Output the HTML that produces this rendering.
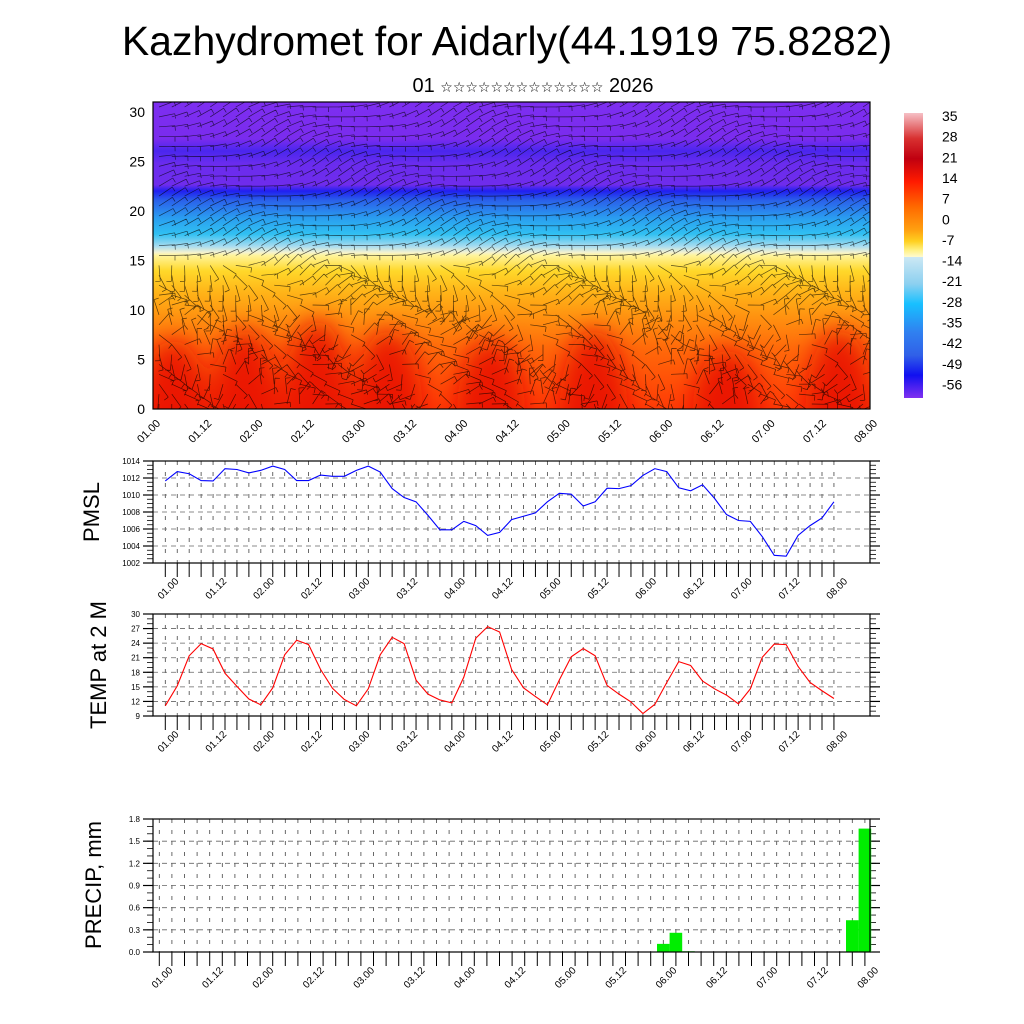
<!DOCTYPE html>
<html><head><meta charset="utf-8"><style>
html,body{margin:0;padding:0;background:#fff;}
svg{display:block;font-family:"Liberation Sans","DejaVu Sans",sans-serif;}
</style></head><body>
<svg id="chart" width="1024" height="1024" viewBox="0 0 1024 1024" xmlns="http://www.w3.org/2000/svg">
<defs>
<linearGradient id="fieldGrad" x1="0" y1="0" x2="0" y2="1">
<stop offset="0" stop-color="#7d2ef0"/>
<stop offset="0.12" stop-color="#7a2cee"/>
<stop offset="0.16" stop-color="#4a26ee"/>
<stop offset="0.2" stop-color="#6a2cee"/>
<stop offset="0.27" stop-color="#6f2cec"/>
<stop offset="0.29" stop-color="#2020f0"/>
<stop offset="0.32" stop-color="#2a60ea"/>
<stop offset="0.38" stop-color="#2a9ff0"/>
<stop offset="0.43" stop-color="#30c0f2"/>
<stop offset="0.47" stop-color="#a8dcf0"/>
<stop offset="0.49" stop-color="#f4f2d0"/>
<stop offset="0.5" stop-color="#fff49a"/>
<stop offset="0.55" stop-color="#ffd82a"/>
<stop offset="0.62" stop-color="#ffb418"/>
<stop offset="0.7" stop-color="#ff9210"/>
<stop offset="0.8" stop-color="#ff6a0a"/>
<stop offset="1" stop-color="#ff3a05"/>
</linearGradient>
<filter id="blur" x="-50%" y="-50%" width="200%" height="200%"><feGaussianBlur stdDeviation="12"/></filter>
<linearGradient id="cbGrad" x1="0" y1="0" x2="0" y2="1">
<stop offset="0" stop-color="#f6c0c6"/>
<stop offset="0.09" stop-color="#d83030"/>
<stop offset="0.16" stop-color="#c00010"/>
<stop offset="0.24" stop-color="#ff1a00"/>
<stop offset="0.33" stop-color="#ff6a00"/>
<stop offset="0.41" stop-color="#ffa010"/>
<stop offset="0.45" stop-color="#ffd020"/>
<stop offset="0.48" stop-color="#fff080"/>
<stop offset="0.505" stop-color="#fffbd0"/>
<stop offset="0.505" stop-color="#cce8f4"/>
<stop offset="0.6" stop-color="#8cd0f0"/>
<stop offset="0.67" stop-color="#18c0ff"/>
<stop offset="0.77" stop-color="#3080f0"/>
<stop offset="0.85" stop-color="#3060e8"/>
<stop offset="0.92" stop-color="#1010f0"/>
<stop offset="1" stop-color="#8030f0"/>
</linearGradient>
<clipPath id="fieldClip"><rect x="153" y="102" width="717" height="307"/></clipPath>
</defs>

<text x="507" y="55" font-size="41" text-anchor="middle">Kazhydromet for Aidarly(44.1919 75.8282)</text>
<text x="533" y="92" font-size="20" text-anchor="middle">01 <tspan font-size="14">☆☆☆☆☆☆☆☆☆☆☆☆☆</tspan> 2026</text>

<g id="field" clip-path="url(#fieldClip)">
<rect x="153" y="102" width="717" height="307" fill="url(#fieldGrad)"/>
</g>
<rect x="153" y="102" width="717" height="307" fill="none" stroke="#000" stroke-width="1.2"/>

<rect x="904" y="113" width="19" height="285" fill="url(#cbGrad)"/>
<g id="cblabels"></g>

<g id="panels"></g>
<text transform="translate(99,512) rotate(-90)" font-size="22" text-anchor="middle">PMSL</text>
<text transform="translate(106,665) rotate(-90)" font-size="22" text-anchor="middle">TEMP at 2 M</text>
<text transform="translate(101,885) rotate(-90)" font-size="22" text-anchor="middle">PRECIP, mm</text>
</svg>
<script>
const NS="http://www.w3.org/2000/svg";
const timeLabels=["01.00","01.12","02.00","02.12","03.00","03.12","04.00","04.12","05.00","05.12","06.00","06.12","07.00","07.12","08.00"];
const pmslValues=[1011.65,1012.75,1012.5,1011.7,1011.65,1013.1,1013.0,1012.6,1012.9,1013.4,1013.0,1011.7,1011.7,1012.35,1012.2,1012.2,1012.9,1013.4,1012.7,1010.75,1009.7,1009.2,1007.6,1005.9,1005.9,1006.9,1006.4,1005.25,1005.6,1007.1,1007.5,1007.9,1009.2,1010.2,1010.1,1008.7,1009.2,1010.8,1010.75,1011.1,1012.3,1013.1,1012.75,1010.85,1010.5,1011.2,1009.6,1007.7,1007.0,1006.9,1005.1,1002.9,1002.8,1005.25,1006.4,1007.3,1009.2];
const tempValues=[11.1,15.2,21.4,23.9,22.8,17.8,15.1,12.5,11.3,14.8,21.6,24.6,23.7,18.6,14.7,12.4,11.1,14.6,21.6,25.2,23.9,16.4,13.5,12.3,11.7,17.0,25.0,27.4,26.3,18.6,14.8,13.0,11.3,16.4,21.2,22.9,21.4,15.3,13.5,11.9,9.5,11.4,15.9,20.2,19.4,16.2,14.6,13.3,11.5,14.6,21.1,23.8,23.7,19.2,15.9,14.2,12.6];
const precipIndex=[40,41,42,55,56];
const precipValues=[0.11,0.26,0.01,0.43,1.67];
const pmslTicks=[1002,1004,1006,1008,1010,1012,1014];
const tempTicks=[9,12,15,18,21,24,27,30];
const precipTicks=[0,0.3,0.6,0.9,1.2,1.5,1.8];
const precipTickLabels=["0.0","0.3","0.6","0.9","1.2","1.5","1.8"];
const fieldYTicks=[0,5,10,15,20,25,30];
const colorbarLabels=["35","28","21","14","7","0","-7","-14","-21","-28","-35","-42","-49","-56"];
const hotSpots=[[0.2,4],[0.9,5],[1.6,6],[2.3,5],[3.3,4],[4.3,5],[5.6,3],[6.7,5]];

function mk(tag,attrs,parent){const e=document.createElementNS(NS,tag);for(const k in attrs)e.setAttribute(k,attrs[k]);parent.appendChild(e);return e;}
const svg=document.getElementById('chart');
const panels=document.getElementById('panels');

const field=document.getElementById('field');
const fx=d=>153+d*(717/7);
const fy=v=>409-v*(307/31);
const hotG=mk('g',{filter:'url(#blur)'},field);
hotSpots.forEach((h,i)=>{
  const el=mk('ellipse',{cx:fx(h[0]),cy:409,rx:34,ry:409-fy(h[1]+3),fill:'#e80800','fill-opacity':0.85},hotG);
  
  
});
const barbs=mk('g',{stroke:'#000','stroke-width':'0.7','stroke-opacity':'0.65',fill:'none'},field);


let dstr='';
for(let i=0;i<57;i++){for(let j=0;j<31;j++){
  const x=153+i*12.8+6,y=fy(j+0.5);
  const a=(j>14?0.3:1.2)*Math.sin(i*0.37+j*0.53)+(j<10?Math.cos(i*0.9+j)*1.2:0)+(j>14?-0.3:0.4);
  const L=16,dx=Math.cos(a)*L,dy=Math.sin(a)*L;
  dstr+=`M${x.toFixed(1)} ${y.toFixed(1)}l${dx.toFixed(1)} ${dy.toFixed(1)}`;
  dstr+=`m0 0l${(-Math.sin(a)*5).toFixed(1)} ${(Math.cos(a)*5).toFixed(1)}`;
}}
mk('path',{d:dstr},barbs);
fieldYTicks.forEach(v=>{
  const t=mk('text',{x:145,y:fy(v)+5,'font-size':14,'text-anchor':'end'},svg);t.textContent=v;
  
  
});
timeLabels.forEach((s,k)=>{
  const x=153+k*(717/14);
  const t=mk('text',{transform:`translate(${x+8},${424}) rotate(-45)`,'font-size':11,'text-anchor':'end'},svg);t.textContent=s;
  
  
});
const cbl=document.getElementById('cblabels');
colorbarLabels.forEach((s,k)=>{
  const t=mk('text',{x:942,y:121+k*20.65,'font-size':14},cbl);t.textContent=s;
  
  
});

function panel(opt){
  const g=mk('g',{},panels);
  
  
  const {L,R,T,B,min,max,x0,dx}=opt;
  const sy=v=>B-(v-min)/(max-min)*(B-T);
  const sx=i=>x0+i*dx;
  for(let i=0;i<57;i++){const x=sx(i);if(x>L&&x<R)mk('line',{x1:x,x2:x,y1:T,y2:B,stroke:'#444','stroke-width':0.8,'stroke-dasharray':'4,7'},g);}
  opt.ticks.forEach(v=>{if(v>min&&v<max)mk('line',{x1:L,x2:R,y1:sy(v),y2:sy(v),stroke:'#666','stroke-width':0.8,'stroke-dasharray':'5,4'},g);});
  for(let v=min;v<=max+1e-9;v+=opt.minor){const y=sy(v);
    mk('line',{x1:L-6,x2:L,y1:y,y2:y,stroke:'#000','stroke-width':0.8},g);
    mk('line',{x1:R,x2:R+6,y1:y,y2:y,stroke:'#000','stroke-width':0.8},g);}
  opt.ticks.forEach((v,k)=>{const y=sy(v);
    mk('line',{x1:L-10,x2:L,y1:y,y2:y,stroke:'#000','stroke-width':1.2},g);
    mk('line',{x1:R,x2:R+10,y1:y,y2:y,stroke:'#000','stroke-width':1.2},g);
    const t=mk('text',{x:L-13,y:y+3,'font-size':8,'text-anchor':'end'},g);t.textContent=opt.tickLabels?opt.tickLabels[k]:v;
    
    
  });
  for(let i=0;i<57;i++){const x=sx(i);mk('line',{x1:x,x2:x,y1:B,y2:B+14,stroke:'#000','stroke-width':1},g);}
  timeLabels.forEach((s,k)=>{const x=sx(k*4);
    const t=mk('text',{transform:`translate(${x+14},${B+19}) rotate(-45)`,'font-size':10,'text-anchor':'end'},g);t.textContent=s;
    
    
  });
  opt.draw(g,sx,sy);
  mk('rect',{x:L,y:T,width:R-L,height:B-T,fill:'none',stroke:'#000','stroke-width':1.2},g);
}
panel({name:'pmsl-panel',L:153,R:870,T:461,B:563,min:1002,max:1014,x0:165.3,dx:11.94,ticks:pmslTicks,minor:0.5,
  draw:(g,sx,sy)=>{const p=mk('polyline',{points:pmslValues.map((v,i)=>sx(i)+','+sy(v)).join(' '),fill:'none',stroke:'#0000ff','stroke-width':1.1},g);
    
    }});
panel({name:'temp-panel',L:153,R:870,T:614,B:716,min:9,max:30,x0:165.3,dx:11.94,ticks:tempTicks,minor:1,
  draw:(g,sx,sy)=>{const p=mk('polyline',{points:tempValues.map((v,i)=>sx(i)+','+sy(v)).join(' '),fill:'none',stroke:'#ff0000','stroke-width':1.1},g);
    
    }});
panel({name:'precip-panel',L:153,R:870,T:819,B:952,min:0,max:1.8,x0:159.3,dx:12.6,ticks:precipTicks,tickLabels:precipTickLabels,minor:0.1,
  draw:(g,sx,sy)=>{precipIndex.forEach((idx,k)=>{const x=sx(idx);const v=precipValues[k];
    const r=mk('rect',{x:x-6.3,y:sy(v),width:12.6,height:sy(0)-sy(v),fill:'#00ee00'},g);
    
    });}});
</script>
</body></html>
